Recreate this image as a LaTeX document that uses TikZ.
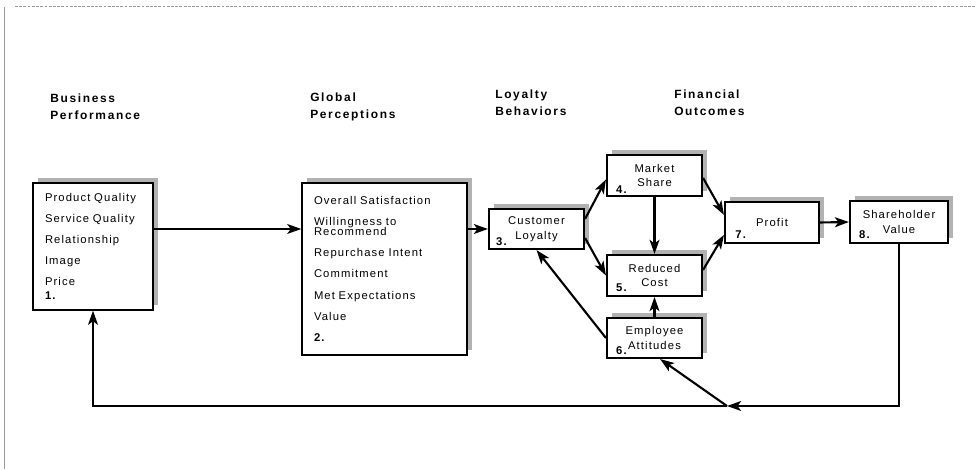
\documentclass[tikz,border=0pt]{standalone}
\usepackage{fontspec}
\setmainfont{Liberation Sans}
\newfontfamily\boxfont[LetterSpace=10]{Liberation Sans}
\newfontfamily\headfont[LetterSpace=14]{Liberation Sans}
\usetikzlibrary{arrows.meta, shadows}

\begin{document}
\begin{tikzpicture}[
    heading/.style={anchor=west, inner sep=0pt, align=left, font=\headfont\bfseries\fontsize{8.5}{12}\selectfont},
    boxshadow/.style={drop shadow={shadow xshift=0.13cm, shadow yshift=0.13cm, fill=black!30, opacity=1}},
    listbox/.style={draw, line width=1pt, fill=white, inner xsep=0.3cm, inner ysep=0.2cm, align=left,
        font=\boxfont\fontsize{8}{15}\selectfont, boxshadow},
    stagebox/.style={draw, line width=1.5pt, fill=white, minimum width=2.375cm, minimum height=1cm, inner sep=0pt,
        align=center, font=\boxfont\fontsize{8}{10.5}\selectfont, boxshadow},
    number/.style={anchor=south west, inner sep=0pt, font=\boxfont\bfseries\fontsize{8}{9.6}\selectfont},
    arrow/.style={-{Stealth[length=10pt, width=7pt, inset=2.5pt]}, line width=1.5pt}
]
\useasboundingbox (0,0) rectangle (24.425,11.725);

% page edges of the scan
\draw[black!40, line width=0.5pt] (0.1,11.55) -- (0.1,0);
\draw[black!40, line width=0.5pt, dash pattern=on 2pt off 1pt] (0.375,11.575) -- (24.425,11.575);

% Column headings
\node[heading] (hbusiness) at (1.25,9.0625) {Business\\Performance};
\node[heading] (hglobal) at (7.75,9.0625) {Global\\Perceptions};
\node[heading] (hloyalty) at (12.375,9.1625) {Loyalty\\Behaviors};
\node[heading] (hfinancial) at (16.85,9.1625) {Financial\\Outcomes};

% Business performance and global perceptions
\node[listbox, text width=2.4cm, minimum height=3.175cm] (b1) at (2.325,5.5625)
    {Product Quality\\Service Quality\\Relationship\\Image\\Price\\[-5pt]\textbf{1.}};
\node[listbox, text width=3.525cm, minimum height=4.3cm] (b2) at (9.6125,5.0)
    {Overall Satisfaction\\Willingness to\\[-8pt]Recommend\\Repurchase Intent\\Commitment\\Met Expectations\\Value\\\textbf{2.}};

% Loyalty and financial outcomes
\node[stagebox] (b3) at (13.4125,6.0) {Customer\\Loyalty};
\node[stagebox, minimum height=1.025cm] (b4) at (16.3625,7.3375) {Market\\Share};
\node[stagebox, minimum height=1.025cm] (b5) at (16.3625,4.8375) {Reduced\\Cost};
\node[stagebox] (b6) at (16.3625,3.275) {Employee\\Attitudes};
\node[stagebox, minimum width=2.35cm, minimum height=1.025cm] (b7) at (19.3,6.1625) {Profit};
\node[stagebox, minimum width=2.45cm, minimum height=1.05cm] (b8) at (22.475,6.175) {Shareholder\\Value};

\node[number] (n3) at ([shift={(0.2cm,0.1cm)}]b3.south west) {3.};
\node[number] (n4) at ([shift={(0.25cm,0.08cm)}]b4.south west) {4.};
\node[number] (n5) at ([shift={(0.25cm,0.12cm)}]b5.south west) {5.};
\node[number] (n6) at ([shift={(0.25cm,0.1cm)}]b6.south west) {6.};
\node[number] (n7) at ([shift={(0.28cm,0.12cm)}]b7.south west) {7.};
\node[number] (n8) at ([shift={(0.25cm,0.12cm)}]b8.south west) {8.};

% Forward links
\draw[arrow, line width=1.1pt] (b1.east |- b3.west) -- (b2.west |- b3.west);
\draw[arrow] (b2.east |- b3.west) -- (b3.west);
\draw[arrow] ([yshift=0.25cm]b3.east) -- ([yshift=-0.1cm]b4.west);
\draw[arrow] ([yshift=-0.225cm]b3.east) -- (b5.west);
\draw[arrow] (b4.south) -- (b5.north);
\draw[arrow] (b6.north) -- (b5.south);
\draw[arrow] (b6.west) -- (b3.south);
\draw[arrow] ([yshift=-0.06cm]b4.east) -- ([yshift=0.19cm]b7.west);
\draw[arrow] ([yshift=0.14cm]b5.east) -- ([yshift=-0.31cm]b7.west);
\draw[arrow] (b7.east) -- (b8.west);

% Feedback loop
\coordinate (fork) at (18.175,1.575);
\draw[arrow] (b8.south) |- (fork);
\draw[arrow] (fork) -| (b1.south);
\draw[arrow] (fork) -- ([xshift=0.14cm]b6.south);

\end{tikzpicture}
\end{document}
